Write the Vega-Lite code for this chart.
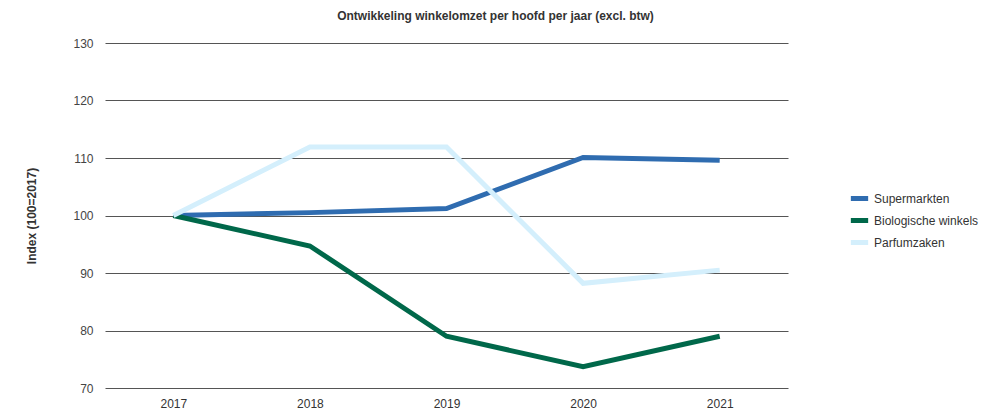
{
  "$schema": "https://vega.github.io/schema/vega-lite/v6.json",
  "width": 683,
  "height": 345,
  "autosize": {"type": "none"},
  "padding": {"left": 105, "top": 43, "right": 203, "bottom": 28},
  "background": "white",
  "title": {
    "text": "Ontwikkeling winkelomzet per hoofd per jaar (excl. btw)",
    "font": "Liberation Sans",
    "fontSize": 12,
    "fontWeight": "bold",
    "color": "#333333",
    "anchor": "middle",
    "dx": 49,
    "offset": 14
  },
  "data": {
    "values": [
      {"jaar": "2017", "reeks": "Supermarkten", "index": 100},
      {"jaar": "2018", "reeks": "Supermarkten", "index": 100.5},
      {"jaar": "2019", "reeks": "Supermarkten", "index": 101.2},
      {"jaar": "2020", "reeks": "Supermarkten", "index": 110.1},
      {"jaar": "2021", "reeks": "Supermarkten", "index": 109.6},
      {"jaar": "2017", "reeks": "Biologische winkels", "index": 100},
      {"jaar": "2018", "reeks": "Biologische winkels", "index": 94.7},
      {"jaar": "2019", "reeks": "Biologische winkels", "index": 79},
      {"jaar": "2020", "reeks": "Biologische winkels", "index": 73.7},
      {"jaar": "2021", "reeks": "Biologische winkels", "index": 79},
      {"jaar": "2017", "reeks": "Parfumzaken", "index": 100},
      {"jaar": "2018", "reeks": "Parfumzaken", "index": 111.9},
      {"jaar": "2019", "reeks": "Parfumzaken", "index": 111.9},
      {"jaar": "2020", "reeks": "Parfumzaken", "index": 88.2},
      {"jaar": "2021", "reeks": "Parfumzaken", "index": 90.5}
    ]
  },
  "mark": {"type": "line", "strokeWidth": 5, "strokeJoin": "miter"},
  "encoding": {
    "x": {
      "field": "jaar",
      "type": "ordinal",
      "scale": {"type": "point", "padding": 0.5},
      "axis": {
        "title": null,
        "labelAngle": 0,
        "domain": false,
        "ticks": false,
        "grid": false,
        "labelPadding": 10,
        "labelFont": "Liberation Sans",
        "labelFontSize": 12,
        "labelColor": "#333333"
      }
    },
    "y": {
      "field": "index",
      "type": "quantitative",
      "scale": {"domain": [70, 130], "nice": false, "zero": false},
      "axis": {
        "title": "Index (100=2017)",
        "titleFont": "Liberation Sans",
        "titleFontSize": 12,
        "titleFontWeight": "bold",
        "titleColor": "#333333",
        "titlePadding": 34,
        "values": [70, 80, 90, 100, 110, 120, 130],
        "domain": false,
        "ticks": false,
        "grid": true,
        "gridColor": "#555555",
        "gridWidth": 1,
        "labelPadding": 12,
        "labelFont": "Liberation Sans",
        "labelFontSize": 12,
        "labelColor": "#444444"
      }
    },
    "color": {
      "field": "reeks",
      "type": "nominal",
      "sort": ["Supermarkten", "Biologische winkels", "Parfumzaken"],
      "scale": {
        "domain": ["Supermarkten", "Biologische winkels", "Parfumzaken"],
        "range": ["#2f6cb0", "#00684a", "#d4effc"]
      },
      "legend": {
        "title": null,
        "orient": "none",
        "legendX": 743,
        "legendY": 144,
        "symbolType": "stroke",
        "symbolStrokeWidth": 5,
        "symbolSize": 300,
        "rowPadding": 0,
        "labelOffset": 3,
        "labelFont": "Liberation Sans",
        "labelFontSize": 12,
        "labelColor": "#333333"
      }
    }
  },
  "config": {"view": {"stroke": null}}
}
